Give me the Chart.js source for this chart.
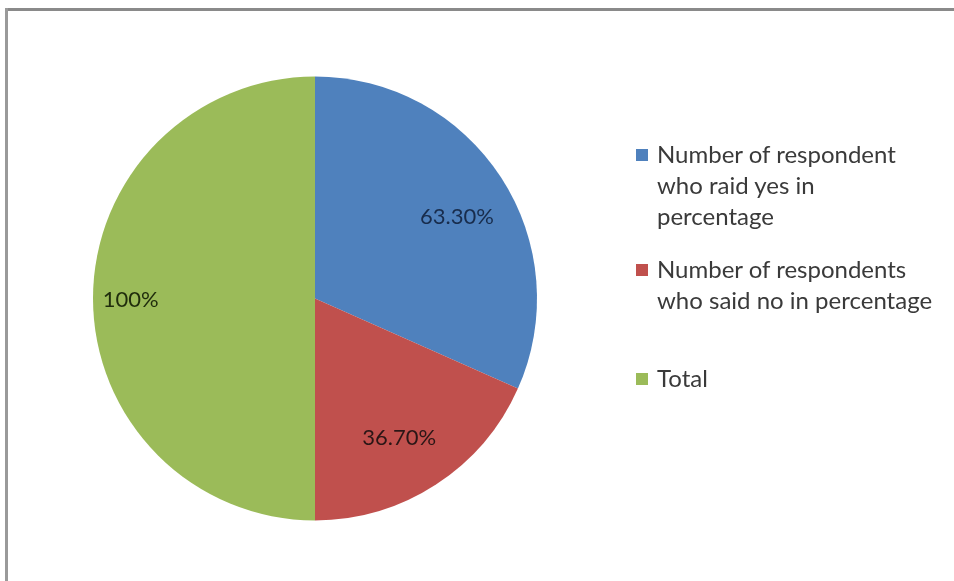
<!DOCTYPE html>
<html>
<head>
<meta charset="utf-8">
<script src="https://cdn.jsdelivr.net/npm/chart.js@4.4.1/dist/chart.umd.min.js"></script>
<style>
  html, body { margin: 0; padding: 0; background: #fff; overflow: hidden; }
  #wrap { position: relative; width: 954px; height: 581px; overflow: hidden; }
  #frameTop { position: absolute; left: 5px; top: 8px; width: 949px; height: 3px; background: #8a8a8a; }
  #frameLeft { position: absolute; left: 5px; top: 8px; width: 3px; height: 573px; background: #9a9a9a; }
  #pieChart { position: absolute; left: 0; top: 0; }
  #legend {
    position: absolute; left: 636px; top: 138px; white-space: nowrap;
    font-family: Lato, 'Open Sans', sans-serif; font-size: 24px; color: #3a3a3a;
    line-height: 31px;
  }
  .item { position: relative; padding-left: 21px; }
  .swatch { position: absolute; left: 0; top: 11px; width: 12px; height: 12px; }
</style>
</head>
<body>
<div id="wrap">
  <div id="frameTop"></div>
  <div id="frameLeft"></div>
  <canvas id="pieChart" width="954" height="581"></canvas>
  <div id="legend"></div>
</div>
<script>
const sliceLabels = [
  ['Number of respondent', 'who raid yes in', 'percentage'],
  ['Number of respondents', 'who said no in percentage'],
  ['Total'],
];
const sliceValues = [63.3, 36.7, 100];
const valueLabels = ['63.30%', '36.70%', '100%'];
const sliceColors = ['#4f81bd', '#c0504d', '#9bbb59'];

// gap above each legend entry, px
const legendGaps = [0, 22, 47];

// writes the percentage text inside each slice
const sliceLabelPlugin = {
  id: 'sliceLabels',
  afterDatasetsDraw(chart, args, opts) {
    const { ctx } = chart;
    const arcs = chart.getDatasetMeta(0).data;
    ctx.save();
    ctx.font = '22px Lato, "Open Sans", sans-serif';
    ctx.textAlign = 'center';
    ctx.textBaseline = 'middle';
    arcs.forEach((arc, i) => {
      const mid = (arc.startAngle + arc.endAngle) / 2 + opts.shift[i];
      const r = arc.outerRadius * opts.radius[i];
      ctx.fillStyle = opts.colors[i];
      ctx.fillText(valueLabels[i], arc.x + Math.cos(mid) * r, arc.y + Math.sin(mid) * r + 1);
    });
    ctx.restore();
  },
};

const ctxPie = document.getElementById('pieChart').getContext('2d');
const pieChart = new Chart(ctxPie, {
  type: 'pie',
  data: {
    labels: sliceLabels,
    datasets: [{
      data: sliceValues,
      backgroundColor: sliceColors,
      borderWidth: 0,
    }],
  },
  options: {
    responsive: false,
    animation: false,
    layout: { padding: { left: 93, right: 417, top: 76, bottom: 60 } },
    plugins: {
      legend: { display: false },
      tooltip: { enabled: false },
      sliceLabels: {
        radius: [0.74, 0.73, 0.83],
        shift: [0.05, 0.03, 0],
        colors: ['#182c4c', '#2a1616', '#1f2c0c'],
      },
    },
  },
  plugins: [sliceLabelPlugin],
});

// legend on the right, one block per slice
const legendEl = document.getElementById('legend');
pieChart.data.labels.forEach((lines, i) => {
  const item = document.createElement('div');
  item.className = 'item';
  item.style.marginTop = legendGaps[i] + 'px';
  const sw = document.createElement('span');
  sw.className = 'swatch';
  sw.style.background = sliceColors[i];
  item.appendChild(sw);
  item.insertAdjacentHTML('beforeend', lines.join('<br>'));
  legendEl.appendChild(item);
});
</script>
</body>
</html>
